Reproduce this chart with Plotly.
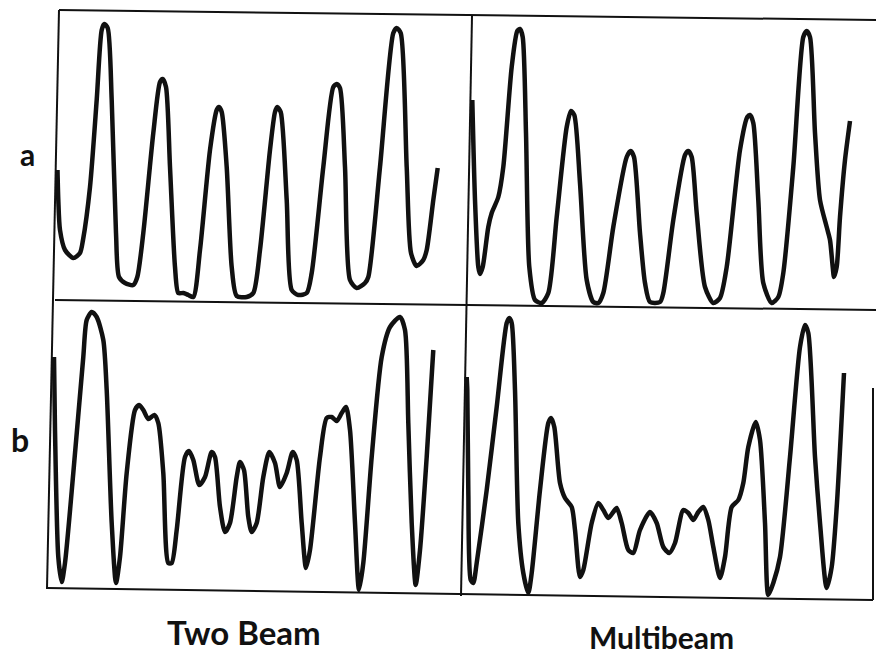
import plotly.graph_objects as go

# Recorded fringe profiles: position along the scan and relative intensity
# (same units on both axes, measured from the lower-left corner of each panel).

# Row a, two-beam interference
a_two_pos = [0.5, 1.3, 3, 8, 16.3, 23, 26, 33, 39.7, 44.7, 47.3, 50.7, 54.7, 59, 62, 68, 76.3, 80.3, 86.3,
             96.3, 103, 105.7, 109, 113, 118, 121.3, 126.3, 131.3, 136.3, 143, 153, 159.7, 162, 164.7,
             169.7, 174.7, 179.7, 189.7, 196.3, 203, 213, 218, 220.3, 223.7, 229.7, 234.7, 241.3, 249.7,
             254.7, 266.3, 276.3, 279.7, 283, 288, 293, 299.7, 308, 311.3, 323, 336.3, 339.7, 343.7,
             349.7, 354, 359.7, 366.3, 369.7, 376.3, 380.7]
a_two_int = [130, 100, 70, 50, 42, 47, 60, 113, 200, 270, 276, 272, 200, 67, 23, 17, 15, 23, 67,
             167, 218, 221, 213, 133, 33, 7, 7, 5, 3, 50, 150, 190, 193, 188,
             133, 33, 4, 3, 7, 50, 150, 188, 193, 188, 100, 10, 5, 7,
             27, 133, 213, 216, 212, 133, 20, 12, 17, 23, 133, 267, 272, 267,
             133, 47, 34, 40, 50, 100, 132]

# Row a, multibeam interference
a_multi_pos = [3.3, 6, 9.3, 11, 13.7, 19.3, 22.7, 29.3, 34.3, 42.7, 48.3, 51, 53.7, 57, 60.3, 66, 72.7,
               79.3, 87.7, 97.7, 102, 105.3, 111, 117.7, 124.3, 129.3, 134.3, 144.3, 157.7, 161.7, 165,
               171, 176, 181, 191, 194.3, 204.3, 216, 219.3, 222.7, 227.7, 236, 244.3, 251, 257.7, 271,
               278.3, 281, 284.3, 289.3, 294.3, 302.7, 309.3, 314.3, 324.3, 334.3, 337.7, 341, 346, 351,
               357.7, 361, 363.7, 365, 367.7, 371, 376, 381]
a_multi_int = [205, 105, 38, 31, 38, 78, 92, 108, 138, 238, 274, 276, 268, 172, 38, 5, 2,
               12, 88, 178, 194, 190, 122, 25, 3, 2, 12, 78, 148, 154, 148,
               72, 22, 3, 3, 12, 85, 150, 154, 148, 92, 18, 2, 7, 38, 155,
               188, 190, 182, 105, 22, 2, 8, 32, 138, 268, 274, 268, 172, 105,
               78, 65, 38, 28, 38, 88, 145, 184]

# Row b, two-beam interference
b_two_pos = [3, 4, 7.3, 10.7, 14, 22.3, 32.3, 35.7, 40.7, 45.7, 52.3, 55.7, 60.7, 65, 69, 75.7, 84, 88,
             92.3, 97.3, 103.3, 107.3, 112.3, 117.3, 120.7, 125.7, 134, 138, 142.3, 148.3, 154, 160.7,
             164, 169, 174, 179, 185.7, 189, 193, 197.3, 200.7, 205.7, 212.3, 218.3, 224, 229, 235.7,
             241.7, 245.7, 250.7, 255, 259, 269, 275.7, 280.7, 285.7, 290.7, 295, 299, 304, 308, 312.3,
             320.7, 330.7, 339, 349, 354, 357.3, 360.7, 364.7, 369, 375.7, 382.3]
b_two_int = [234, 161, 34, 9, 28, 118, 234, 271, 279, 274, 251, 201, 68, 8, 34, 118, 181, 186,
             181, 172, 176, 168, 118, 28, 28, 61, 134, 140, 131, 106, 114, 139,
             134, 84, 59, 68, 114, 129, 121, 74, 59, 68, 114, 139, 128, 104, 118,
             139, 131, 68, 23, 41, 134, 173, 174, 170, 178, 184, 161, 68, 1, 28,
             134, 234, 264, 274, 261, 168, 68, 6, 41, 134, 241]

# Row b, multibeam interference
b_multi_pos = [2.7, 3.3, 4.3, 6.7, 9.3, 12.7, 22.7, 32.7, 42.7, 45.3, 47.7, 51, 54.3, 59.3, 64.3, 67.7,
               76, 84.3, 87, 90.3, 96, 101, 107.7, 111, 116, 119.3, 127.7, 134.3, 139.3, 144.3, 149.3,
               152.7, 157.7, 164.3, 169.3, 176, 186, 192.7, 199.3, 205.3, 211, 219.3, 224.3, 229.3,
               234.3, 239.3, 244.3, 249.3, 256, 261, 267.7, 274.3, 279.3, 284.3, 291.7, 296, 301, 304.3,
               309.3, 316, 326, 336, 341, 344.3, 351, 356, 362.7, 367.7, 372.7, 380]
b_multi_int = [220, 207, 107, 17, 14, 34, 107, 190, 274, 279, 274, 207, 74, 24, 4, 24,
               107, 174, 179, 170, 114, 99, 90, 67, 20, 27, 74, 94, 87, 79, 85,
               89, 74, 47, 44, 67, 85, 74, 50, 44, 54, 87, 84, 77,
               85, 90, 77, 50, 19, 40, 90, 97, 114, 150, 175, 157, 74, 2,
               14, 40, 140, 250, 272, 264, 140, 74, 9, 30, 90, 224]

row_labels = ["a", "b"]
column_titles = ["Two Beam", "Multibeam"]

W, H = 876, 659
PAD = 10  # room round each panel so thick strokes are not clipped

# panel boxes (left, top, right, bottom) in page pixels
panels = [
    (a_two_pos, a_two_int, (57, 12, 469, 300)),
    (a_multi_pos, a_multi_int, (469, 17, 876, 305)),
    (b_two_pos, b_two_int, (51, 302, 464, 591)),
    (b_multi_pos, b_multi_int, (464, 308, 873, 597)),
]

fig = go.Figure()
for i, (xs, ys, (l, t, r, b)) in enumerate(panels, start=1):
    xa = "x" if i == 1 else f"x{i}"
    ya = "y" if i == 1 else f"y{i}"
    fig.add_trace(go.Scatter(
        x=xs, y=ys, mode="lines", xaxis=xa, yaxis=ya,
        line=dict(color="#111111", width=4.5, shape="spline", smoothing=0.7),
        showlegend=False, hoverinfo="skip",
    ))
    pl, pr = min(PAD, l), min(PAD, W - r)
    pt, pb = min(PAD, t), min(PAD, H - b)
    xkey = "xaxis" if i == 1 else f"xaxis{i}"
    ykey = "yaxis" if i == 1 else f"yaxis{i}"
    fig.update_layout(**{
        xkey: dict(domain=[(l - pl) / W, (r + pr) / W], range=[-pl, r - l + pr],
                   visible=False, fixedrange=True, anchor=ya),
        ykey: dict(domain=[(H - b - pb) / H, (H - t + pt) / H], range=[-pb, b - t + pt],
                   visible=False, fixedrange=True, anchor=xa),
    })

# frame and dividers (slightly skewed, as on the original plate)
frame_lines = [
    ((59, 10), (876, 20)),    # top
    ((59, 10), (47, 589)),    # left
    ((55, 300), (876, 310)),  # row divider
    ((47, 588), (873, 600)),  # bottom
    ((472, 16), (461, 596)),  # column divider
    ((873, 388), (873, 600)), # right edge of lower row
]
for (x0, y0), (x1, y1) in frame_lines:
    fig.add_shape(type="line", xref="paper", yref="paper",
                  x0=x0 / W, y0=1 - y0 / H, x1=x1 / W, y1=1 - y1 / H,
                  line=dict(color="#111111", width=2))

font = dict(family="Lato, 'DejaVu Sans', sans-serif", color="#111111")
# row labels: (text, centre x, centre y, size)
for lab, xc, yc, sz in zip(row_labels, [27, 20], [154, 439], [30, 32]):
    fig.add_annotation(text=f"<b>{lab}</b>", x=xc / W, y=1 - yc / H, xref="paper", yref="paper",
                       xanchor="center", yanchor="middle", showarrow=False,
                       font=dict(size=sz, **font))
# column titles
for lab, xc, yc, sz in zip(column_titles, [244, 661], [632, 637], [33, 30]):
    fig.add_annotation(text=f"<b>{lab}</b>", x=xc / W, y=1 - yc / H, xref="paper", yref="paper",
                       xanchor="center", yanchor="middle", showarrow=False,
                       font=dict(size=sz, **font))

fig.update_layout(width=W, height=H, autosize=False, margin=dict(l=0, r=0, t=0, b=0),
                  paper_bgcolor="white", plot_bgcolor="rgba(0,0,0,0)")
fig.write_html("out.html")
